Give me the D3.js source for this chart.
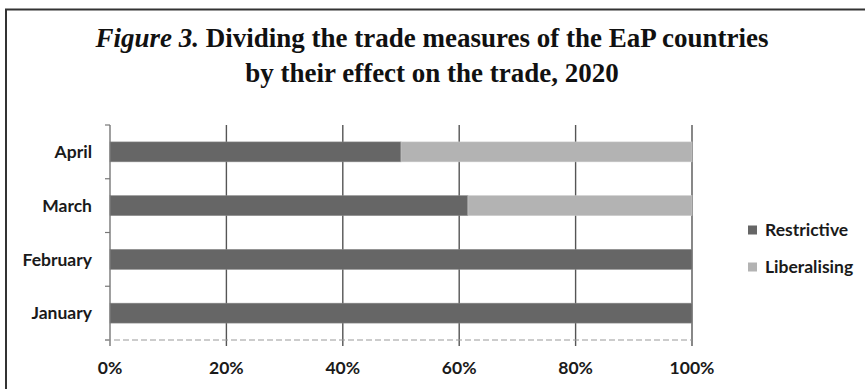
<!DOCTYPE html>
<html><head><meta charset="utf-8">
<script src="https://cdn.jsdelivr.net/npm/d3@7"></script>
<style>body{margin:0;background:#fff;}svg{display:block;}</style>
</head><body>
<svg id="chart" width="865" height="389"></svg>
<script>
const categories = ["April", "March", "February", "January"];
const restrictive = [50, 61.5, 100, 100];
const liberalising = [50, 38.5, 0, 0];
const seriesNames = ["Restrictive", "Liberalising"];
const xTicks = [0, 20, 40, 60, 80, 100];

(function () {
const svg = d3.select("#chart");
const W = 865, H = 389;
const labelFont = "Lato, 'Open Sans', sans-serif";
svg.append("rect").attr("x", 0).attr("y", 0).attr("width", W).attr("height", H).attr("fill", "#fff");
svg.append("rect").attr("x", 6).attr("y", 9.5).attr("width", 870).attr("height", 400)
  .attr("fill", "none").attr("stroke", "#333").attr("stroke-width", 2);

const title = svg.append("text").attr("text-anchor", "middle")
  .style("font-family", "'Liberation Serif', 'Times New Roman', serif")
  .style("font-weight", "bold").style("font-size", "27px").attr("fill", "#111");
const t1 = title.append("tspan").attr("x", 432).attr("y", 47);
t1.append("tspan").style("font-style", "italic").text("Figure 3.");
t1.append("tspan").text(" Dividing the trade measures of the EaP countries");
title.append("tspan").attr("x", 432).attr("y", 82).text("by their effect on the trade, 2020");

const pL = 110, pR = 692, pT = 125, pB = 340;
const x = d3.scaleLinear().domain([0, 100]).range([pL, pR]);
const y = d3.scaleBand().domain(categories).range([pT, pB]).paddingInner(0.63).paddingOuter(0.315);

const g = svg.append("g");
g.selectAll("line.grid").data(xTicks.slice(1)).join("line")
  .attr("x1", d => x(d)).attr("x2", d => x(d)).attr("y1", pT).attr("y2", pB + 6)
  .attr("stroke", "#555").attr("stroke-width", 1.4);

const data = categories.map((c, i) => ({c, r: restrictive[i], l: liberalising[i]}));
g.selectAll("rect.r").data(data).join("rect")
  .attr("x", x(0)).attr("y", d => y(d.c)).attr("width", d => x(d.r) - x(0)).attr("height", y.bandwidth())
  .attr("fill", "#666").attr("stroke", "#888").attr("stroke-width", 0.6);
g.selectAll("rect.l").data(data.filter(d => d.l > 0)).join("rect")
  .attr("x", d => x(d.r)).attr("y", d => y(d.c)).attr("width", d => x(d.r + d.l) - x(d.r)).attr("height", y.bandwidth())
  .attr("fill", "#b3b3b3").attr("stroke", "#c8c8c8").attr("stroke-width", 0.6);

const yAxis = svg.append("g").attr("transform", `translate(${pL},0)`);
yAxis.append("line").attr("x1", 0).attr("x2", 0).attr("y1", pT).attr("y2", pB + 6).attr("stroke", "#777").attr("stroke-width", 1.4);
const yTicks = d3.range(categories.length + 1).map(i => pT + i * (pB - pT) / categories.length);
yAxis.selectAll("line.t").data(yTicks).join("line")
  .attr("x1", -5).attr("x2", 0).attr("y1", d => d).attr("y2", d => d).attr("stroke", "#777").attr("stroke-width", 1.2);
yAxis.selectAll("text").data(categories).join("text")
  .attr("x", -18).attr("y", d => y(d) + y.bandwidth() / 2).attr("dy", "0.36em").attr("text-anchor", "end")
  .style("font-family", labelFont).style("font-weight", "bold").style("font-size", "17.5px")
  .attr("fill", "#1a1a1a").text(d => d);

svg.append("line").attr("x1", pL - 5).attr("x2", pR).attr("y1", pB).attr("y2", pB)
  .attr("stroke", "#999").attr("stroke-width", 1.2).attr("stroke-dasharray", "6,3");

svg.append("g").selectAll("text").data(xTicks).join("text")
  .attr("x", d => x(d)).attr("y", 368).attr("dy", "0.36em").attr("text-anchor", "middle")
  .style("font-family", labelFont).style("font-weight", "bold").style("font-size", "17.5px")
  .attr("fill", "#1a1a1a").text(d => d + "%");

const colors = ["#666", "#b3b3b3"];
const leg = svg.append("g");
seriesNames.forEach((s, i) => {
  const cy = 230 + i * 37;
  leg.append("rect").attr("x", 748).attr("y", cy - 4.5).attr("width", 9).attr("height", 9).attr("fill", colors[i]);
  leg.append("text").attr("x", 765).attr("y", cy).attr("dy", "0.36em")
    .style("font-family", labelFont).style("font-weight", "bold").style("font-size", "17.5px")
    .attr("fill", "#1a1a1a").text(s);
});
})();
</script>
</body></html>
